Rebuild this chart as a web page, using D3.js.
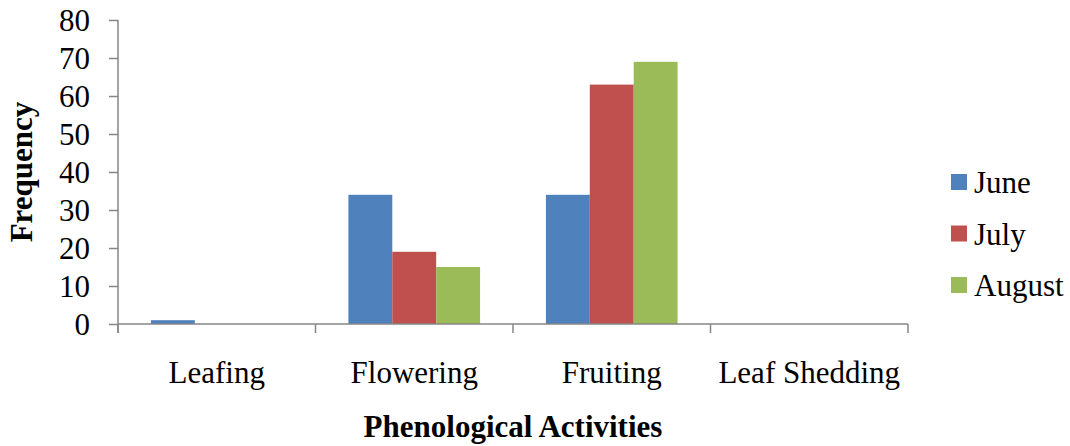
<!DOCTYPE html>
<html lang="en-US">
<head>
<script src="https://d3js.org/d3.v7.min.js"></script>
<style>
  body { margin: 0; background: #fff; }
  svg text { font-family: "Liberation Serif", "Times New Roman", serif; fill: #000; }
</style>
</head>
<body>
<svg width="1070" height="446"></svg>
<script>
var categories = ["Leafing", "Flowering", "Fruiting", "Leaf Shedding"];
var months = ["June", "July", "August"];
var june = [1, 34, 34, 0];
var july = [0, 19, 63, 0];
var august = [0, 15, 69, 0];
var yTicks = [0, 10, 20, 30, 40, 50, 60, 70, 80];
var colors = ["#4F81BD", "#C0504D", "#9BBB59"];

var series = [june, july, august];
var svg = d3.select("svg");
var plotLeft = 118, plotRight = 908, plotTop = 20, plotBottom = 324;
var fs = 31;

var x = d3.scaleBand().domain(categories).range([plotLeft, plotRight]).paddingInner(0).paddingOuter(0);
var x1 = d3.scaleBand().domain(months).range([0, x.bandwidth()]).paddingInner(0).paddingOuter(0.75);
var y = d3.scaleLinear().domain([0, 80]).range([plotBottom, plotTop]);

var axisColor = "#868686";

// bars
categories.forEach(function(c, ci) {
    var g = svg.append("g").attr("transform", `translate(${x(c)},0)`);
    months.forEach(function(m, mi) {
        var v = series[mi][ci];
        if (v <= 0) return;
        g.append("rect")
            .attr("x", x1(m))
            .attr("width", x1.bandwidth())
            .attr("y", y(v))
            .attr("height", y(0) - y(v))
            .attr("fill", colors[mi]);
    });
});

// y axis
var yAxis = svg.append("g").attr("transform", `translate(${plotLeft},0)`)
    .call(d3.axisLeft(y).tickValues(yTicks).tickSize(9).tickPadding(19));
yAxis.select(".domain").attr("stroke", axisColor).attr("stroke-width", 1.5)
    .attr("d", `M0,${plotTop}V${plotBottom + 9}`);
yAxis.selectAll(".tick line").attr("stroke", axisColor).attr("stroke-width", 1.5);
yAxis.selectAll(".tick text").attr("font-size", fs).attr("fill", "#000")
    .attr("font-family", "Liberation Serif").attr("dy", "0.33em");

// x axis
var xAxis = svg.append("g").attr("transform", `translate(0,${plotBottom})`);
xAxis.append("line").attr("x1", plotLeft).attr("x2", plotRight).attr("y1", 0).attr("y2", 0)
    .attr("stroke", axisColor).attr("stroke-width", 1.5);
var bounds = categories.map(c => x(c)).concat([plotRight]);
xAxis.selectAll(".xt").data(bounds).enter().append("line")
    .attr("x1", d => d).attr("x2", d => d).attr("y1", 0).attr("y2", 9)
    .attr("stroke", axisColor).attr("stroke-width", 1.5);
xAxis.selectAll(".xl").data(categories).enter().append("text")
    .attr("x", d => x(d) + x.bandwidth() / 2)
    .attr("y", 59)
    .attr("text-anchor", "middle")
    .attr("font-size", fs)
    .text(d => d);

// axis titles
svg.append("text")
    .attr("transform", `translate(32,${(plotTop + plotBottom) / 2}) rotate(-90)`)
    .attr("text-anchor", "middle")
    .attr("font-size", fs).attr("font-weight", "bold")
    .text("Frequency");
svg.append("text")
    .attr("x", (plotLeft + plotRight) / 2).attr("y", 437)
    .attr("text-anchor", "middle")
    .attr("font-size", fs).attr("font-weight", "bold")
    .text("Phenological Activities");

// legend
var legend = svg.append("g").attr("transform", "translate(951,174)");
months.forEach(function(m, i) {
    var row = legend.append("g").attr("transform", `translate(0,${i * 51.5})`);
    row.append("rect").attr("width", 16).attr("height", 16).attr("fill", colors[i]);
    row.append("text").attr("x", 23).attr("y", 19).attr("font-size", fs).text(m);
});
</script>
</body>
</html>
